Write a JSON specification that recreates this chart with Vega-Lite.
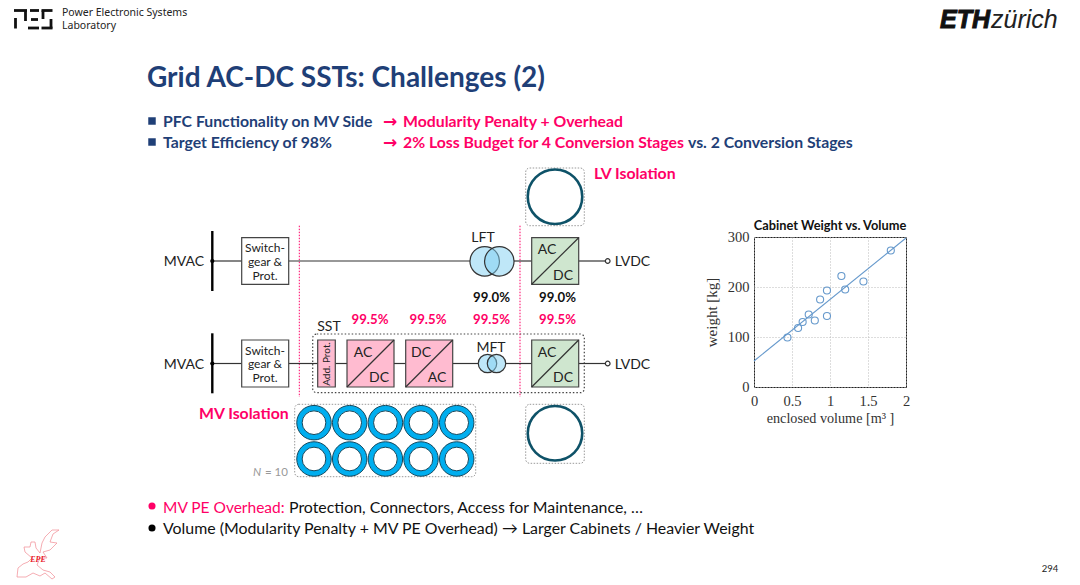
{
  "$schema": "https://vega.github.io/schema/vega-lite/v6.json",
  "autosize": {"type": "none"},
  "padding": {"left": 754, "top": 237, "right": 174, "bottom": 198},
  "width": 152,
  "height": 150,
  "background": "white",
  "config": {"view": {"stroke": "#222", "strokeWidth": 1}},
  "datasets": {
    "points": [
      {"volume": 0.44, "weight": 99},
      {"volume": 0.58, "weight": 118},
      {"volume": 0.64, "weight": 130},
      {"volume": 0.72, "weight": 145},
      {"volume": 0.8, "weight": 133},
      {"volume": 0.87, "weight": 175},
      {"volume": 0.96, "weight": 142},
      {"volume": 0.96, "weight": 193},
      {"volume": 1.15, "weight": 222},
      {"volume": 1.2, "weight": 195},
      {"volume": 1.44, "weight": 211},
      {"volume": 1.8, "weight": 273}
    ],
    "fit": [
      {"volume": 0, "weight": 52},
      {"volume": 2, "weight": 298}
    ],
    "texts": [
      {"role": "title", "text": "Grid AC-DC SSTs: Challenges (2)", "u": 147, "v": 78.5},
      {"role": "chartTitle", "text": "Cabinet Weight vs. Volume", "u": 830, "v": 226},
      {"role": "headNavy", "text": "PFC Functionality on MV Side", "u": 163, "v": 122},
      {"role": "headNavy", "text": "Target Efficiency of 98%", "u": 163, "v": 143},
      {"role": "headNavy", "text": "vs. 2 Conversion Stages", "u": 688, "v": 143},
      {"role": "arrow", "text": "→", "u": 383, "v": 122},
      {"role": "arrow", "text": "→", "u": 383, "v": 143},
      {"role": "headPink", "text": "Modularity Penalty + Overhead", "u": 403, "v": 122},
      {"role": "headPink", "text": "2% Loss Budget for 4 Conversion Stages", "u": 403, "v": 143},
      {"role": "headPink", "text": "LV Isolation", "u": 594, "v": 173.5},
      {"role": "headPink", "text": "MV Isolation", "u": 199, "v": 414},
      {"role": "node", "text": "MVAC", "u": 184, "v": 262},
      {"role": "node", "text": "MVAC", "u": 184, "v": 365},
      {"role": "node", "text": "LVDC", "u": 632.5, "v": 262},
      {"role": "node", "text": "LVDC", "u": 632.5, "v": 365},
      {"role": "node", "text": "LFT", "u": 483, "v": 238},
      {"role": "node", "text": "MFT", "u": 491, "v": 348},
      {"role": "node", "text": "SST", "u": 329, "v": 327},
      {"role": "node", "text": "AC", "u": 547, "v": 250},
      {"role": "node", "text": "DC", "u": 563, "v": 276},
      {"role": "node", "text": "AC", "u": 547, "v": 353},
      {"role": "node", "text": "DC", "u": 563, "v": 378},
      {"role": "node", "text": "AC", "u": 363, "v": 353},
      {"role": "node", "text": "DC", "u": 379, "v": 378},
      {"role": "node", "text": "DC", "u": 421, "v": 353},
      {"role": "node", "text": "AC", "u": 437, "v": 378},
      {"role": "box", "text": "Switch-", "u": 265, "v": 248},
      {"role": "box", "text": "gear &", "u": 265, "v": 262},
      {"role": "box", "text": "Prot.", "u": 265, "v": 275.5},
      {"role": "box", "text": "Switch-", "u": 265, "v": 351},
      {"role": "box", "text": "gear &", "u": 265, "v": 364},
      {"role": "box", "text": "Prot.", "u": 265, "v": 378},
      {"role": "vertical", "text": "Add. Prot.", "u": 326.5, "v": 364},
      {"role": "effBlack", "text": "99.0%", "u": 491.5, "v": 298},
      {"role": "effBlack", "text": "99.0%", "u": 557.5, "v": 298},
      {"role": "effPink", "text": "99.5%", "u": 370, "v": 319.5},
      {"role": "effPink", "text": "99.5%", "u": 428, "v": 319.5},
      {"role": "effPink", "text": "99.5%", "u": 491.5, "v": 319.5},
      {"role": "effPink", "text": "99.5%", "u": 557.5, "v": 319.5},
      {"role": "nItalic", "text": "N", "u": 257, "v": 473},
      {"role": "nPlain", "text": "= 10", "u": 265, "v": 473},
      {"role": "footPink", "text": "MV PE Overhead:", "u": 163, "v": 507.5},
      {"role": "footBlack", "text": "Protection, Connectors, Access for Maintenance, …", "u": 289, "v": 507.5},
      {"role": "footBlack", "text": "Volume (Modularity Penalty + MV PE Overhead) → Larger Cabinets / Heavier Weight", "u": 163, "v": 528.5},
      {"role": "page", "text": "294", "u": 1050, "v": 569},
      {"role": "lab", "text": "Power Electronic Systems", "u": 62, "v": 13},
      {"role": "lab", "text": "Laboratory", "u": 62, "v": 25.5},
      {"role": "eth", "text": "ETH", "u": 940, "v": 20},
      {"role": "zurich", "text": "zürich", "u": 991, "v": 20},
      {"role": "epe", "text": "EPE", "u": 38, "v": 560}
    ],
    "boxes": [
      {"kind": "plain", "u": 241.7, "u2": 288.7, "v": 237.7, "v2": 284.3},
      {"kind": "plain", "u": 241.7, "u2": 288.7, "v": 340, "v2": 387},
      {"kind": "green", "u": 531.7, "u2": 578.7, "v": 237.7, "v2": 284.3},
      {"kind": "green", "u": 531.7, "u2": 578.7, "v": 340, "v2": 387},
      {"kind": "pink", "u": 317.7, "u2": 335.3, "v": 340, "v2": 387},
      {"kind": "pink", "u": 347, "u2": 394, "v": 340, "v2": 387},
      {"kind": "pink", "u": 405.7, "u2": 452.7, "v": 340, "v2": 387}
    ],
    "enclosures": [
      {"name": "SST", "u": 312.7, "u2": 584.3, "v": 334, "v2": 392.7},
      {"name": "LV top", "u": 525.7, "u2": 584.3, "v": 168, "v2": 225.7},
      {"name": "MV cells", "u": 294.7, "u2": 475.7, "v": 404.3, "v2": 476.7},
      {"name": "LV bottom", "u": 525.7, "u2": 584.3, "v": 404.3, "v2": 463.3}
    ],
    "wires": [
      {"u": 212, "u2": 241.7, "v": 261, "v2": 261},
      {"u": 288.7, "u2": 470, "v": 261, "v2": 261},
      {"u": 514, "u2": 531.7, "v": 261, "v2": 261},
      {"u": 578.7, "u2": 605, "v": 261, "v2": 261},
      {"u": 212, "u2": 241.7, "v": 363.5, "v2": 363.5},
      {"u": 288.7, "u2": 317.7, "v": 363.5, "v2": 363.5},
      {"u": 335.3, "u2": 347, "v": 363.5, "v2": 363.5},
      {"u": 394, "u2": 405.7, "v": 363.5, "v2": 363.5},
      {"u": 452.7, "u2": 478, "v": 363.5, "v2": 363.5},
      {"u": 506, "u2": 531.7, "v": 363.5, "v2": 363.5},
      {"u": 578.7, "u2": 605, "v": 363.5, "v2": 363.5}
    ],
    "slashes": [
      {"u": 531.7, "u2": 578.7, "v": 284.3, "v2": 237.7},
      {"u": 531.7, "u2": 578.7, "v": 387, "v2": 340},
      {"u": 347, "u2": 394, "v": 387, "v2": 340},
      {"u": 405.7, "u2": 452.7, "v": 387, "v2": 340}
    ],
    "buses": [
      {"u": 212.3, "u2": 212.3, "v": 231, "v2": 291},
      {"u": 212.3, "u2": 212.3, "v": 333.3, "v2": 393.3}
    ],
    "dividers": [
      {"u": 299.3, "u2": 299.3, "v": 225.7, "v2": 397},
      {"u": 520, "u2": 520, "v": 225.7, "v2": 397}
    ],
    "logo": [
      {"u": 14, "u2": 27, "v": 10.5, "v2": 10.5},
      {"u": 25.5, "u2": 25.5, "v": 10.5, "v2": 21},
      {"u": 15.5, "u2": 15.5, "v": 18, "v2": 28.5},
      {"u": 30, "u2": 39, "v": 10.5, "v2": 10.5},
      {"u": 31, "u2": 38, "v": 19.5, "v2": 19.5},
      {"u": 28, "u2": 39, "v": 28, "v2": 28},
      {"u": 41.5, "u2": 52.5, "v": 10.5, "v2": 10.5},
      {"u": 43, "u2": 43, "v": 10.5, "v2": 19},
      {"u": 51, "u2": 51, "v": 19, "v2": 28.5},
      {"u": 41.5, "u2": 52.5, "v": 28, "v2": 28}
    ],
    "rings": [
      {"set": "mv", "u": 314, "v": 422.7},
      {"set": "mv", "u": 349.7, "v": 422.7},
      {"set": "mv", "u": 385.4, "v": 422.7},
      {"set": "mv", "u": 421, "v": 422.7},
      {"set": "mv", "u": 456.7, "v": 422.7},
      {"set": "mv", "u": 314, "v": 459},
      {"set": "mv", "u": 349.7, "v": 459},
      {"set": "mv", "u": 385.4, "v": 459},
      {"set": "mv", "u": 421, "v": 459},
      {"set": "mv", "u": 456.7, "v": 459},
      {"set": "lv", "u": 555, "v": 196.7},
      {"set": "lv", "u": 555, "v": 433.3}
    ],
    "coils": [
      {"kind": "lft", "u": 484.7, "v": 261.3},
      {"kind": "lft", "u": 499.3, "v": 261.3},
      {"kind": "mft", "u": 487.5, "v": 363.5},
      {"kind": "mft", "u": 496.5, "v": 363.5}
    ],
    "markers": [
      {"kind": "terminal", "u": 607.7, "v": 261},
      {"kind": "terminal", "u": 607.7, "v": 363.5},
      {"kind": "junction", "u": 212.3, "v": 261},
      {"kind": "junction", "u": 212.3, "v": 363.5},
      {"kind": "navySquare", "u": 152, "v": 121},
      {"kind": "navySquare", "u": 152, "v": 142},
      {"kind": "pinkDot", "u": 152, "v": 506},
      {"kind": "blackDot", "u": 152, "v": 528}
    ],
    "europe": [
      {"o": 1, "u": 17, "v": 577},
      {"o": 2, "u": 18, "v": 568},
      {"o": 3, "u": 23, "v": 564},
      {"o": 4, "u": 28, "v": 562},
      {"o": 5, "u": 32, "v": 558},
      {"o": 6, "u": 25, "v": 552},
      {"o": 7, "u": 24, "v": 547},
      {"o": 8, "u": 30, "v": 547},
      {"o": 9, "u": 31, "v": 542},
      {"o": 10, "u": 35, "v": 542},
      {"o": 11, "u": 36, "v": 548},
      {"o": 12, "u": 40, "v": 553},
      {"o": 13, "u": 42, "v": 543},
      {"o": 14, "u": 45, "v": 537},
      {"o": 15, "u": 52, "v": 530},
      {"o": 16, "u": 59, "v": 530},
      {"o": 17, "u": 53, "v": 534},
      {"o": 18, "u": 50, "v": 542},
      {"o": 19, "u": 57, "v": 543},
      {"o": 20, "u": 50, "v": 550},
      {"o": 21, "u": 43, "v": 552},
      {"o": 22, "u": 47, "v": 558},
      {"o": 23, "u": 40, "v": 558},
      {"o": 24, "u": 37, "v": 565},
      {"o": 25, "u": 43, "v": 570},
      {"o": 26, "u": 50, "v": 572},
      {"o": 27, "u": 55, "v": 577},
      {"o": 28, "u": 52, "v": 579},
      {"o": 29, "u": 45, "v": 573},
      {"o": 30, "u": 40, "v": 576},
      {"o": 31, "u": 33, "v": 573},
      {"o": 32, "u": 26, "v": 577},
      {"o": 33, "u": 17, "v": 577}
    ]
  },
  "resolve": {"scale": {"x": "independent", "y": "independent"}},
  "layer": [
    {
      "encoding": {
        "x": {"field": "u", "type": "quantitative", "axis": null, "scale": {"domain": [0, 1080], "range": [-754, 326], "nice": false, "zero": false}},
        "y": {"field": "v", "type": "quantitative", "axis": null, "scale": {"domain": [0, 585], "range": [-237, 348], "nice": false, "zero": false}}
      },
      "layer": [
        {
          "data": {"name": "logo"},
          "mark": {"type": "rule", "color": "#111", "strokeWidth": 2.8},
          "encoding": {"x2": {"field": "u2"}, "y2": {"field": "v2"}}
        },
        {
          "data": {"name": "europe"},
          "mark": {"type": "line", "color": "#f08a92", "strokeWidth": 0.7},
          "encoding": {"order": {"field": "o", "type": "quantitative"}}
        },
        {
          "data": {"name": "enclosures"},
          "transform": [{"filter": "datum.name != 'SST'"}],
          "mark": {"type": "rect", "fill": null, "stroke": "#999", "strokeWidth": 1, "strokeDash": [1.5, 1.5], "cornerRadius": 4},
          "encoding": {"x2": {"field": "u2"}, "y2": {"field": "v2"}}
        },
        {
          "data": {"name": "enclosures"},
          "transform": [{"filter": "datum.name == 'SST'"}],
          "mark": {"type": "rect", "fill": null, "stroke": "#444", "strokeWidth": 1.2, "strokeDash": [1.5, 2], "cornerRadius": 4},
          "encoding": {"x2": {"field": "u2"}, "y2": {"field": "v2"}}
        },
        {
          "data": {"name": "dividers"},
          "mark": {"type": "rule", "color": "#ff0066", "strokeWidth": 1, "strokeDash": [1.5, 1.5]},
          "encoding": {"x2": {"field": "u2"}, "y2": {"field": "v2"}}
        },
        {
          "data": {"name": "wires"},
          "mark": {"type": "rule", "color": "#333", "strokeWidth": 1.2},
          "encoding": {"x2": {"field": "u2"}, "y2": {"field": "v2"}}
        },
        {
          "data": {"name": "buses"},
          "mark": {"type": "rule", "color": "#000", "strokeWidth": 2.4},
          "encoding": {"x2": {"field": "u2"}, "y2": {"field": "v2"}}
        },
        {
          "data": {"name": "boxes"},
          "mark": {"type": "rect", "stroke": "#444", "strokeWidth": 1.2},
          "encoding": {
            "x2": {"field": "u2"},
            "y2": {"field": "v2"},
            "fill": {"field": "kind", "type": "nominal", "legend": null, "scale": {"domain": ["plain", "green", "pink"], "range": ["#ffffff", "#cfe6cf", "#ffbbd0"]}}
          }
        },
        {
          "data": {"name": "slashes"},
          "mark": {"type": "rule", "color": "#333", "strokeWidth": 1.2},
          "encoding": {"x2": {"field": "u2"}, "y2": {"field": "v2"}}
        },
        {
          "data": {"name": "rings"},
          "transform": [{"filter": "datum.set == 'mv'"}],
          "mark": {"type": "point", "shape": "circle", "filled": true, "opacity": 1, "fill": "#00aeef", "stroke": "#17485c", "strokeWidth": 1, "size": 1190}
        },
        {
          "data": {"name": "rings"},
          "transform": [{"filter": "datum.set == 'mv'"}],
          "mark": {"type": "point", "shape": "circle", "filled": true, "opacity": 1, "fill": "#ffffff", "stroke": "#17485c", "strokeWidth": 1, "size": 560}
        },
        {
          "data": {"name": "rings"},
          "transform": [{"filter": "datum.set == 'lv'"}],
          "mark": {"type": "point", "shape": "circle", "filled": true, "opacity": 1, "fill": "#ffffff", "stroke": "#0e5268", "strokeWidth": 2.6, "size": 2970}
        },
        {
          "data": {"name": "coils"},
          "transform": [{"filter": "datum.kind == 'lft'"}],
          "mark": {"type": "point", "shape": "circle", "filled": true, "fill": "#7fd0f2", "fillOpacity": 0.5, "opacity": 1, "stroke": "#333", "strokeWidth": 1.2, "size": 870}
        },
        {
          "data": {"name": "coils"},
          "transform": [{"filter": "datum.kind == 'mft'"}],
          "mark": {"type": "point", "shape": "circle", "filled": true, "fill": "#7fd0f2", "fillOpacity": 0.5, "opacity": 1, "stroke": "#333", "strokeWidth": 1.2, "size": 340}
        },
        {
          "data": {"name": "markers"},
          "transform": [{"filter": "datum.kind == 'terminal'"}],
          "mark": {"type": "point", "shape": "circle", "filled": true, "opacity": 1, "fill": "#fff", "stroke": "#333", "strokeWidth": 1.2, "size": 22}
        },
        {
          "data": {"name": "markers"},
          "transform": [{"filter": "datum.kind == 'junction'"}],
          "mark": {"type": "point", "shape": "circle", "filled": true, "opacity": 1, "fill": "#000", "size": 18}
        },
        {
          "data": {"name": "markers"},
          "transform": [{"filter": "datum.kind == 'navySquare'"}],
          "mark": {"type": "point", "shape": "square", "filled": true, "opacity": 1, "fill": "#1f3f77", "size": 56}
        },
        {
          "data": {"name": "markers"},
          "transform": [{"filter": "datum.kind == 'pinkDot'"}],
          "mark": {"type": "point", "shape": "circle", "filled": true, "opacity": 1, "fill": "#ff0066", "size": 50}
        },
        {
          "data": {"name": "markers"},
          "transform": [{"filter": "datum.kind == 'blackDot'"}],
          "mark": {"type": "point", "shape": "circle", "filled": true, "opacity": 1, "fill": "#000", "size": 50}
        },
        {
          "data": {"name": "texts"},
          "transform": [{"filter": "datum.role == 'title'"}],
          "mark": {"type": "text", "align": "left", "baseline": "middle", "font": "Lato", "fontWeight": "bold", "fontSize": 28, "fill": "#1f3f77"},
          "encoding": {"text": {"field": "text"}}
        },
        {
          "data": {"name": "texts"},
          "transform": [{"filter": "datum.role == 'chartTitle'"}],
          "mark": {"type": "text", "align": "center", "baseline": "middle", "font": "Lato", "fontWeight": "bold", "fontSize": 12.8, "fill": "#111"},
          "encoding": {"text": {"field": "text"}}
        },
        {
          "data": {"name": "texts"},
          "transform": [{"filter": "datum.role == 'headNavy'"}],
          "mark": {"type": "text", "align": "left", "baseline": "middle", "font": "Lato", "fontWeight": "bold", "fontSize": 15.8, "fill": "#1f3f77"},
          "encoding": {"text": {"field": "text"}}
        },
        {
          "data": {"name": "texts"},
          "transform": [{"filter": "datum.role == 'headPink'"}],
          "mark": {"type": "text", "align": "left", "baseline": "middle", "font": "Lato", "fontWeight": "bold", "fontSize": 15.8, "fill": "#ff0066"},
          "encoding": {"text": {"field": "text"}}
        },
        {
          "data": {"name": "texts"},
          "transform": [{"filter": "datum.role == 'arrow'"}],
          "mark": {"type": "text", "align": "left", "baseline": "middle", "font": "DejaVu Sans", "fontWeight": "bold", "fontSize": 17, "fill": "#ff0066"},
          "encoding": {"text": {"field": "text"}}
        },
        {
          "data": {"name": "texts"},
          "transform": [{"filter": "datum.role == 'node'"}],
          "mark": {"type": "text", "align": "center", "baseline": "middle", "font": "Lato", "fontSize": 14, "fill": "#222"},
          "encoding": {"text": {"field": "text"}}
        },
        {
          "data": {"name": "texts"},
          "transform": [{"filter": "datum.role == 'box'"}],
          "mark": {"type": "text", "align": "center", "baseline": "middle", "font": "Lato", "fontSize": 12, "fill": "#222"},
          "encoding": {"text": {"field": "text"}}
        },
        {
          "data": {"name": "texts"},
          "transform": [{"filter": "datum.role == 'vertical'"}],
          "mark": {"type": "text", "align": "center", "baseline": "middle", "angle": 270, "font": "Lato", "fontSize": 10, "fill": "#222"},
          "encoding": {"text": {"field": "text"}}
        },
        {
          "data": {"name": "texts"},
          "transform": [{"filter": "datum.role == 'effBlack'"}],
          "mark": {"type": "text", "align": "center", "baseline": "middle", "font": "Lato", "fontWeight": "bold", "fontSize": 13.2, "fill": "#111"},
          "encoding": {"text": {"field": "text"}}
        },
        {
          "data": {"name": "texts"},
          "transform": [{"filter": "datum.role == 'effPink'"}],
          "mark": {"type": "text", "align": "center", "baseline": "middle", "font": "Lato", "fontWeight": "bold", "fontSize": 13.2, "fill": "#ff0066"},
          "encoding": {"text": {"field": "text"}}
        },
        {
          "data": {"name": "texts"},
          "transform": [{"filter": "datum.role == 'nItalic'"}],
          "mark": {"type": "text", "align": "center", "baseline": "middle", "font": "Lato", "fontStyle": "italic", "fontSize": 11.5, "fill": "#999"},
          "encoding": {"text": {"field": "text"}}
        },
        {
          "data": {"name": "texts"},
          "transform": [{"filter": "datum.role == 'nPlain'"}],
          "mark": {"type": "text", "align": "left", "baseline": "middle", "font": "Lato", "fontSize": 11.5, "fill": "#999"},
          "encoding": {"text": {"field": "text"}}
        },
        {
          "data": {"name": "texts"},
          "transform": [{"filter": "datum.role == 'footPink'"}],
          "mark": {"type": "text", "align": "left", "baseline": "middle", "font": "Lato", "fontSize": 15.5, "fill": "#ff0066"},
          "encoding": {"text": {"field": "text"}}
        },
        {
          "data": {"name": "texts"},
          "transform": [{"filter": "datum.role == 'footBlack'"}],
          "mark": {"type": "text", "align": "left", "baseline": "middle", "font": "Lato", "fontSize": 15.9, "fill": "#111"},
          "encoding": {"text": {"field": "text"}}
        },
        {
          "data": {"name": "texts"},
          "transform": [{"filter": "datum.role == 'page'"}],
          "mark": {"type": "text", "align": "center", "baseline": "middle", "font": "Lato", "fontSize": 9.5, "fill": "#222"},
          "encoding": {"text": {"field": "text"}}
        },
        {
          "data": {"name": "texts"},
          "transform": [{"filter": "datum.role == 'lab'"}],
          "mark": {"type": "text", "align": "left", "baseline": "middle", "font": "Noto Sans", "fontSize": 10.5, "fill": "#222"},
          "encoding": {"text": {"field": "text"}}
        },
        {
          "data": {"name": "texts"},
          "transform": [{"filter": "datum.role == 'eth'"}],
          "mark": {"type": "text", "align": "left", "baseline": "middle", "font": "Liberation Sans", "fontWeight": "bold", "fontStyle": "italic", "fontSize": 25, "fill": "#111", "stroke": "#111", "strokeWidth": 1},
          "encoding": {"text": {"field": "text"}}
        },
        {
          "data": {"name": "texts"},
          "transform": [{"filter": "datum.role == 'zurich'"}],
          "mark": {"type": "text", "align": "left", "baseline": "middle", "font": "Liberation Sans", "fontStyle": "italic", "fontSize": 25, "fill": "#222"},
          "encoding": {"text": {"field": "text"}}
        },
        {
          "data": {"name": "texts"},
          "transform": [{"filter": "datum.role == 'epe'"}],
          "mark": {"type": "text", "align": "center", "baseline": "middle", "font": "Liberation Serif", "fontWeight": "bold", "fontStyle": "italic", "fontSize": 8, "fill": "#e8202a"},
          "encoding": {"text": {"field": "text"}}
        }
      ]
    },
    {
      "encoding": {
        "x": {
          "field": "volume",
          "type": "quantitative",
          "title": "enclosed volume [m³ ]",
          "scale": {"domain": [0, 2], "nice": false},
          "axis": {"values": [0, 0.5, 1, 1.5, 2], "format": "~g", "labelFlush": false, "ticks": false, "domain": false, "grid": true, "gridColor": "#bbb", "gridDash": [1, 2], "labelFont": "Liberation Serif", "labelFontSize": 14.5, "labelColor": "#333", "labelPadding": 7, "titleFont": "Liberation Serif", "titleFontSize": 14.2, "titleFontWeight": "normal", "titleColor": "#333", "titlePadding": 4}
        },
        "y": {
          "field": "weight",
          "type": "quantitative",
          "title": "weight [kg]",
          "scale": {"domain": [0, 300], "nice": false},
          "axis": {"values": [0, 100, 200, 300], "labelFlush": false, "ticks": false, "domain": false, "grid": true, "gridColor": "#bbb", "gridDash": [1, 2], "labelFont": "Liberation Serif", "labelFontSize": 14.5, "labelColor": "#333", "labelPadding": 5, "titleFont": "Liberation Serif", "titleFontSize": 15, "titleFontWeight": "normal", "titleColor": "#333", "titlePadding": 8}
        }
      },
      "layer": [
        {
          "data": {"name": "fit"},
          "mark": {"type": "line", "color": "#6699cc", "strokeWidth": 1.1}
        },
        {
          "data": {"name": "points"},
          "mark": {"type": "point", "shape": "circle", "filled": false, "opacity": 1, "stroke": "#6699cc", "strokeWidth": 1.1, "size": 50}
        }
      ]
    }
  ]
}
